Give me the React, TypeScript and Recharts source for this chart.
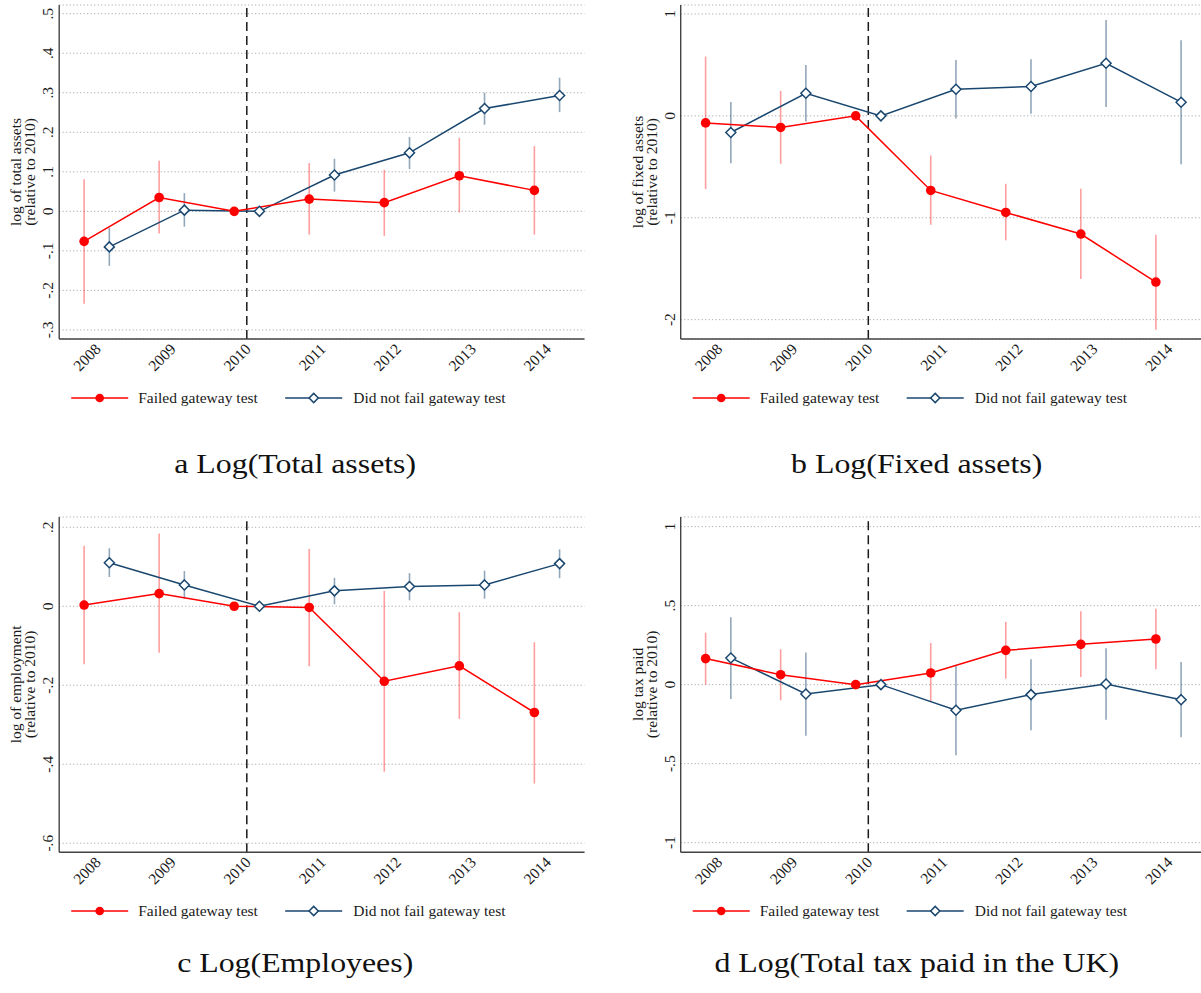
import React from 'react';
import { LineChart, Line, XAxis, YAxis, CartesianGrid, ReferenceLine, ErrorBar } from 'recharts';

// ---------- data ----------
const years = [2008, 2009, 2010, 2011, 2012, 2013, 2014];
const legendNames = ['Failed gateway test', 'Did not fail gateway test'];

// a: log of total assets
const assetsFailed = [-0.076, 0.035, 0, 0.031, 0.022, 0.090, 0.053];
const assetsFailedLow = [-0.234, -0.056, 0, -0.059, -0.062, -0.003, -0.059];
const assetsFailedHigh = [0.081, 0.128, 0, 0.122, 0.105, 0.186, 0.165];
const assetsPassed = [-0.090, 0.003, 0, 0.092, 0.148, 0.260, 0.293];
const assetsPassedLow = [-0.138, -0.039, 0, 0.050, 0.107, 0.219, 0.251];
const assetsPassedHigh = [-0.042, 0.046, 0, 0.133, 0.188, 0.300, 0.338];
const assetsTicks = [-0.3, -0.2, -0.1, 0, 0.1, 0.2, 0.3, 0.4, 0.5];

// b: log of fixed assets
const fixedFailed = [-0.069, -0.114, 0, -0.732, -0.948, -1.160, -1.631];
const fixedFailedLow = [-0.719, -0.471, 0, -1.069, -1.222, -1.601, -2.098];
const fixedFailedHigh = [0.582, 0.245, 0, -0.389, -0.667, -0.716, -1.167];
const fixedPassed = [-0.163, 0.222, 0, 0.261, 0.288, 0.516, 0.134];
const fixedPassedLow = [-0.464, -0.056, 0, -0.026, 0.020, 0.088, -0.474];
const fixedPassedHigh = [0.137, 0.500, 0, 0.549, 0.556, 0.941, 0.742];
const fixedTicks = [-2, -1, 0, 1];

// c: log of employment
const emplFailed = [0.003, 0.032, 0, -0.003, -0.190, -0.151, -0.269];
const emplFailedLow = [-0.147, -0.118, 0, -0.152, -0.419, -0.285, -0.449];
const emplFailedHigh = [0.153, 0.184, 0, 0.145, 0.039, -0.015, -0.091];
const emplPassed = [0.110, 0.054, 0, 0.039, 0.050, 0.054, 0.108];
const emplPassedLow = [0.074, 0.019, 0, 0.005, 0.015, 0.019, 0.071];
const emplPassedHigh = [0.147, 0.089, 0, 0.072, 0.084, 0.090, 0.144];
const emplTicks = [-0.6, -0.4, -0.2, 0, 0.2];

// d: log tax paid
const taxFailed = [0.165, 0.063, 0, 0.074, 0.217, 0.255, 0.289];
const taxFailedLow = [0.0, -0.099, 0, -0.110, 0.038, 0.049, 0.097];
const taxFailedHigh = [0.329, 0.224, 0, 0.264, 0.397, 0.464, 0.481];
const taxPassed = [0.169, -0.059, 0, -0.162, -0.063, 0.004, -0.095];
const taxPassedLow = [-0.091, -0.323, 0, -0.447, -0.289, -0.222, -0.333];
const taxPassedHigh = [0.426, 0.203, 0, 0.120, 0.160, 0.230, 0.143];
const taxTicks = [-1, -0.5, 0, 0.5, 1];

// ---------- styling ----------
const RED = '#ff0000';
const NAVY = '#1a476f';
const RED_CI = 'rgba(255,0,0,0.38)';
const NAVY_CI = 'rgba(26,71,111,0.48)';
const FONT = '"Liberation Serif", "Times New Roman", serif';
const FS = 15.5;
const SHIFT = 0.168;
const PLOT_W = 525.3;

function build(est: number[], lo: number[], hi: number[], shift: number) {
  return years.map((yr, i) => ({
    x: yr + shift,
    y: est[i],
    err: [est[i] - lo[i], hi[i] - est[i]],
  }));
}

function fmt(v: number) {
  if (v === 0) return '0';
  return String(v).replace('0.', '.');
}

const panels = [
  {
    key: 'a', left: 0, axisX: 59.2, plotTop: 5, plotBottom: 339,
    domain: [-0.323, 0.522], ticks: assetsTicks, title: 'log of total assets',
    caption: 'a Log(Total assets)', captionY: 473,
    red: build(assetsFailed, assetsFailedLow, assetsFailedHigh, -SHIFT),
    navy: build(assetsPassed, assetsPassedLow, assetsPassedHigh, SHIFT),
  },
  {
    key: 'b', left: 600, axisX: 680.7, plotTop: 5, plotBottom: 339,
    domain: [-2.19, 1.088], ticks: fixedTicks, title: 'log of fixed assets',
    caption: 'b Log(Fixed assets)', captionY: 473,
    red: build(fixedFailed, fixedFailedLow, fixedFailedHigh, -SHIFT),
    navy: build(fixedPassed, fixedPassedLow, fixedPassedHigh, SHIFT),
  },
  {
    key: 'c', left: 0, axisX: 59.2, plotTop: 516.7, plotBottom: 852,
    domain: [-0.623, 0.226], ticks: emplTicks, title: 'log of employment',
    caption: 'c Log(Employees)', captionY: 972,
    red: build(emplFailed, emplFailedLow, emplFailedHigh, -SHIFT),
    navy: build(emplPassed, emplPassedLow, emplPassedHigh, SHIFT),
  },
  {
    key: 'd', left: 600, axisX: 680.7, plotTop: 516.7, plotBottom: 852,
    domain: [-1.061, 1.061], ticks: taxTicks, title: 'log tax paid',
    caption: 'd Log(Total tax paid in the UK)', captionY: 972,
    red: build(taxFailed, taxFailedLow, taxFailedHigh, -SHIFT),
    navy: build(taxPassed, taxPassedLow, taxPassedHigh, SHIFT),
  },
];

function diamondPath(cx: number, cy: number, s: number) {
  return `M${cx},${cy - s}L${cx + s},${cy}L${cx},${cy + s}L${cx - s},${cy}Z`;
}

function Panel({ cfg }: { cfg: any }) {
  const topM = 5;
  const rightM = 12;
  const xAxisH = 50;
  const yAxisW = cfg.axisX - cfg.left;
  const plotH = cfg.plotBottom - cfg.plotTop;
  const chartW = yAxisW + PLOT_W + rightM;
  const chartH = topM + plotH + xAxisH;
  const axisYRel = topM + plotH;

  const xTick = (p: any) => {
    const ax = p.x + 5;
    const ay = axisYRel + 11;
    return (
      <text x={ax} y={ay} transform={`rotate(-45 ${ax} ${ay})`} textAnchor="end"
        fontSize={FS} fontFamily={FONT} fill="#1a1a1a">{p.payload.value}</text>
    );
  };
  const yTick = (p: any) => {
    const tx = yAxisW - 6;
    return (
      <text x={tx} y={p.y} transform={`rotate(-90 ${tx} ${p.y})`} textAnchor="middle"
        fontSize={FS} fontFamily={FONT} fill="#1a1a1a">{fmt(p.payload.value)}</text>
    );
  };
  const diamondDot = (p: any) => (
    <path key={`dm-${p.index}`} d={diamondPath(p.cx, p.cy, 5)} fill="#ffffff" stroke={NAVY} strokeWidth={1.5} />
  );

  return (
    <div style={{ position: 'absolute', left: cfg.left, top: cfg.plotTop - topM }}>
      <LineChart width={chartW} height={chartH} margin={{ top: topM, right: rightM, bottom: 0, left: 0 }}>
        <CartesianGrid vertical={false} stroke="#9c9c9c" strokeDasharray="1 2.5" strokeWidth={1} />
        <XAxis type="number" dataKey="x" domain={[2007.5, 2014.5]} ticks={years} allowDataOverflow
          interval={0} height={xAxisH} tick={xTick} tickLine={false}
          axisLine={{ stroke: '#444', strokeWidth: 1.4 }} />
        <YAxis type="number" domain={cfg.domain} ticks={cfg.ticks} allowDataOverflow interval={0}
          width={yAxisW} tick={yTick} tickLine={false} axisLine={{ stroke: '#444', strokeWidth: 1.4 }} />
        <ReferenceLine x={2010} stroke="#1a1a1a" strokeDasharray="9 5" strokeWidth={1.5} />
        <Line data={cfg.red} dataKey="y" stroke="none" dot={false} activeDot={false} isAnimationActive={false}>
          <ErrorBar dataKey="err" direction="y" width={0} stroke={RED_CI} strokeWidth={1.6} />
        </Line>
        <Line data={cfg.navy} dataKey="y" stroke="none" dot={false} activeDot={false} isAnimationActive={false}>
          <ErrorBar dataKey="err" direction="y" width={0} stroke={NAVY_CI} strokeWidth={1.6} />
        </Line>
        <Line data={cfg.navy} dataKey="y" type="linear" stroke={NAVY} strokeWidth={1.5}
          dot={diamondDot} activeDot={false} isAnimationActive={false} />
        <Line data={cfg.red} dataKey="y" type="linear" stroke={RED} strokeWidth={1.5}
          dot={{ r: 4.8, fill: RED, stroke: 'none' }} activeDot={false} isAnimationActive={false} />
      </LineChart>
    </div>
  );
}

function Overlay() {
  return (
    <svg width={1201} height={993} style={{ position: 'absolute', left: 0, top: 0, pointerEvents: 'none' }}>
      {panels.map((cfg) => {
        const midY = (cfg.plotTop + cfg.plotBottom) / 2;
        const ly = cfg.plotBottom + 59;
        const ax = cfg.axisX;
        return (
          <g key={cfg.key} fontFamily={FONT} fill="#1a1a1a">
            <text transform={`translate(${ax - 38} ${midY}) rotate(-90)`} textAnchor="middle" fontSize={FS}>{cfg.title}</text>
            <text transform={`translate(${ax - 24} ${midY}) rotate(-90)`} textAnchor="middle" fontSize={FS}>(relative to 2010)</text>
            <line x1={ax + 12} x2={ax + 69} y1={ly} y2={ly} stroke={RED} strokeWidth={1.5} />
            <circle cx={ax + 40.5} cy={ly} r={4.3} fill={RED} />
            <text x={ax + 79} y={ly + 5} fontSize={FS}>{legendNames[0]}</text>
            <line x1={ax + 226} x2={ax + 283} y1={ly} y2={ly} stroke={NAVY} strokeWidth={1.5} />
            <path d={diamondPath(ax + 254.5, ly, 4.6)} fill="#fff" stroke={NAVY} strokeWidth={1.5} />
            <text x={ax + 294} y={ly + 5} fontSize={FS}>{legendNames[1]}</text>
            <text transform={`translate(${ax + 236} ${cfg.captionY}) scale(1.18 1)`} textAnchor="middle"
              fontSize={27} fill="#111">{cfg.caption}</text>
          </g>
        );
      })}
    </svg>
  );
}

export default function App() {
  return (
    <div style={{ position: 'absolute', left: 0, top: 0, width: 1201, height: 993, overflow: 'hidden', background: '#fff' }}>
      {panels.map((cfg) => <Panel key={cfg.key} cfg={cfg} />)}
      <Overlay />
    </div>
  );
}
